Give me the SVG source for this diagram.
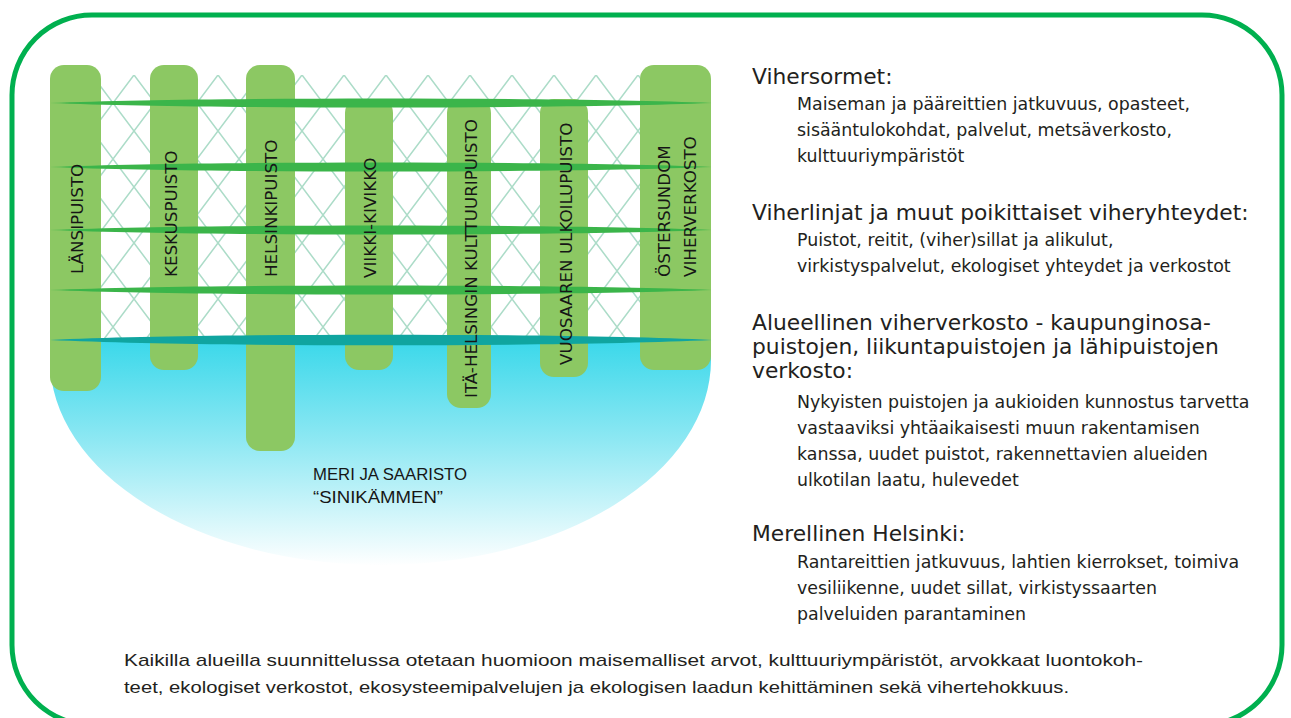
<svg xmlns="http://www.w3.org/2000/svg" width="1291" height="718" viewBox="0 0 1291 718">
<defs>
<style>
.col{fill:#8cc863}
.lbl{font-family:"DejaVu Sans",sans-serif;font-size:16.7px;fill:#161616}
.head{font-family:"DejaVu Sans",sans-serif;font-size:21.8px;fill:#231f20}
.body{font-family:"DejaVu Sans",sans-serif;font-size:17.4px;fill:#231f20}
.foot{font-family:"Liberation Sans",Arial,sans-serif;font-size:17px;fill:#231f20}
.sea{font-family:"Liberation Sans",Arial,sans-serif;font-size:16.5px;fill:#161616}
.band{fill:#3bb54a}
</style>
<pattern id="lattice" x="8" y="75" width="42" height="56" patternUnits="userSpaceOnUse">
<path d="M0,0 L42,56 M42,0 L0,56" stroke="#acdcc8" stroke-width="1.6" fill="none"/>
</pattern>
<linearGradient id="water" x1="0" y1="340" x2="0" y2="566" gradientUnits="userSpaceOnUse">
<stop offset="0" stop-color="#3ad8ea"/>
<stop offset="0.45" stop-color="#8fe8f3"/>
<stop offset="1" stop-color="#ffffff"/>
</linearGradient>
</defs>
<rect width="1291" height="718" fill="#ffffff"/>
<rect id="frame" x="12" y="15" width="1270" height="710" rx="80" ry="80" fill="none" stroke="#00b04f" stroke-width="5"/>

<g id="lattice-area">
<rect x="101" y="75" width="539" height="270" fill="url(#lattice)"/>
</g>
<g id="sea">
<path d="M50,338 L711,338 L711,360 A330.5,205 0 0 1 50,360 Z" fill="url(#water)"/>
<text class="sea" x="313" y="480" textLength="154" lengthAdjust="spacingAndGlyphs">MERI JA SAARISTO</text>
<text class="sea" x="313" y="503" textLength="130" lengthAdjust="spacingAndGlyphs">“SINIKÄMMEN”</text>
</g>

<g id="lansipuisto"><rect class="col" x="50" y="65" width="51" height="326" rx="14"/></g>
<g id="keskuspuisto"><rect class="col" x="150" y="65" width="48" height="305" rx="14"/></g>
<g id="helsinkipuisto"><rect class="col" x="246" y="65" width="49" height="386" rx="14"/></g>
<g id="viikki-kivikko"><rect class="col" x="345" y="99" width="48" height="271" rx="14"/></g>
<g id="ita-helsinki"><rect class="col" x="447" y="99" width="44" height="309" rx="14"/></g>
<g id="vuosaari"><rect class="col" x="540" y="99" width="48" height="278" rx="14"/></g>
<g id="ostersundom"><rect class="col" x="640" y="65" width="71" height="305" rx="14"/></g>

<g id="connectors">
<path class="band" d="M50,103 C200,97 560,97 712,103 C560,109 200,109 50,103 Z"/>
<path class="band" d="M50,167 C200,161 560,161 712,167 C560,173 200,173 50,167 Z"/>
<path class="band" d="M50,230 C200,224 560,224 712,230 C560,236 200,236 50,230 Z"/>
<path class="band" d="M50,290 C200,284 560,284 712,290 C560,296 200,296 50,290 Z"/>
<path d="M50,340 C200,333 560,333 712,340 C560,347 200,347 50,340 Z" fill="#10a5a0"/>
</g>

<g id="labels">
<text class="lbl" transform="translate(83,274) rotate(-90)">LÄNSIPUISTO</text>
<text class="lbl" transform="translate(177,277) rotate(-90)">KESKUSPUISTO</text>
<text class="lbl" transform="translate(277,277) rotate(-90)">HELSINKIPUISTO</text>
<text class="lbl" transform="translate(376,278) rotate(-90)">VIIKKI-KIVIKKO</text>
<text class="lbl" transform="translate(477,398) rotate(-90)">ITÄ-HELSINGIN KULTTUURIPUISTO</text>
<text class="lbl" transform="translate(572,365) rotate(-90)">VUOSAAREN ULKOILUPUISTO</text>
<text class="lbl" transform="translate(670,277) rotate(-90)">ÖSTERSUNDOM</text>
<text class="lbl" transform="translate(696,277) rotate(-90)">VIHERVERKOSTO</text>
</g>

<g id="legend-vihersormet">
<text class="head" x="752" y="84">Vihersormet:</text>
<text class="body" x="797" y="110">Maiseman ja pääreittien jatkuvuus, opasteet,</text>
<text class="body" x="797" y="136">sisääntulokohdat, palvelut, metsäverkosto,</text>
<text class="body" x="797" y="162">kulttuuriympäristöt</text>
</g>
<g id="legend-viherlinjat">
<text class="head" x="752" y="220">Viherlinjat ja muut poikittaiset viheryhteydet:</text>
<text class="body" x="797" y="246">Puistot, reitit, (viher)sillat ja alikulut,</text>
<text class="body" x="797" y="272">virkistyspalvelut, ekologiset yhteydet ja verkostot</text>
</g>
<g id="legend-alueellinen">
<text class="head" x="752" y="330">Alueellinen viherverkosto - kaupunginosa-</text>
<text class="head" x="752" y="354">puistojen, liikuntapuistojen ja lähipuistojen</text>
<text class="head" x="752" y="378">verkosto:</text>
<text class="body" x="797" y="408">Nykyisten puistojen ja aukioiden kunnostus tarvetta</text>
<text class="body" x="797" y="434">vastaaviksi yhtäaikaisesti muun rakentamisen</text>
<text class="body" x="797" y="460">kanssa, uudet puistot, rakennettavien alueiden</text>
<text class="body" x="797" y="486">ulkotilan laatu, hulevedet</text>
</g>
<g id="legend-merellinen">
<text class="head" x="752" y="541">Merellinen Helsinki:</text>
<text class="body" x="797" y="568">Rantareittien jatkuvuus, lahtien kierrokset, toimiva</text>
<text class="body" x="797" y="594">vesiliikenne, uudet sillat, virkistyssaarten</text>
<text class="body" x="797" y="620">palveluiden parantaminen</text>
</g>
<g id="footer">
<text class="foot" x="124" y="666" textLength="1019" lengthAdjust="spacingAndGlyphs">Kaikilla alueilla suunnittelussa otetaan huomioon maisemalliset arvot, kulttuuriympäristöt, arvokkaat luontokoh-</text>
<text class="foot" x="124" y="693" textLength="945" lengthAdjust="spacingAndGlyphs">teet, ekologiset verkostot, ekosysteemipalvelujen ja ekologisen laadun kehittäminen sekä vihertehokkuus.</text>
</g>
</svg>
